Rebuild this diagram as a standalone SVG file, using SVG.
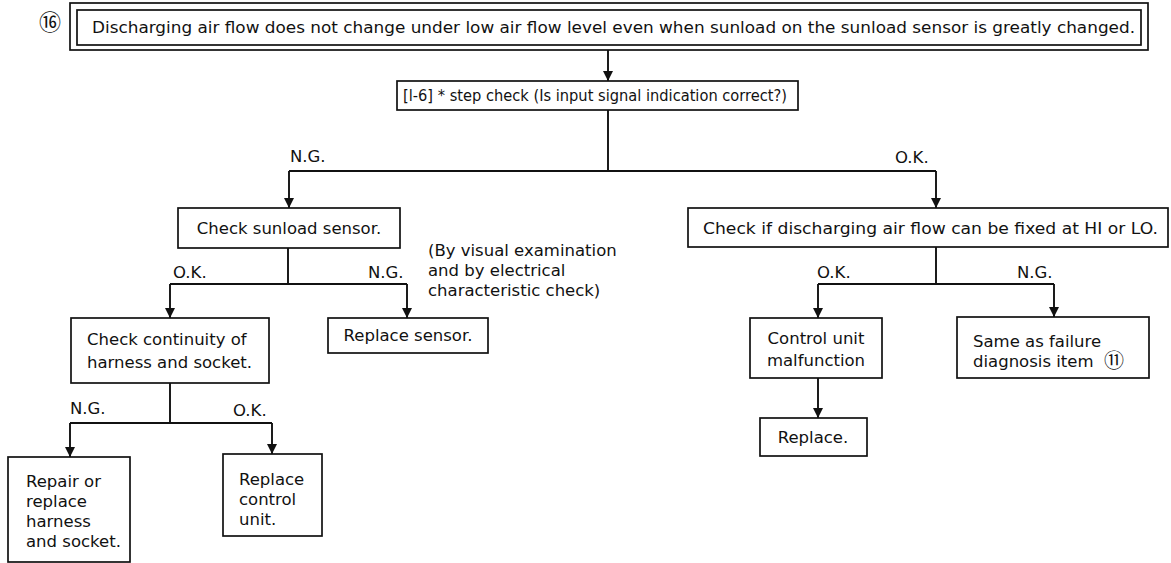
<svg xmlns="http://www.w3.org/2000/svg" width="1171" height="563" viewBox="0 0 1171 563">
<style>
.bx{fill:#fff;stroke:#111;stroke-width:1.7}
.t{font-family:"DejaVu Sans","Liberation Sans",sans-serif;font-size:16.5px;fill:#111}
.c{text-anchor:middle}
.ln{fill:none;stroke:#111;stroke-width:1.9}
.cj{font-family:"Noto Sans CJK JP","DejaVu Sans",sans-serif;fill:#111}
</style>
<defs>
<marker id="ah" markerUnits="userSpaceOnUse" markerWidth="10" markerHeight="11" refX="10" refY="5" orient="auto">
<path d="M0,0 L10,5 L0,10 z" fill="#111"/>
</marker>
</defs>
<rect width="1171" height="563" fill="#fff"/>
<text class="cj" x="50" y="30" font-size="22" text-anchor="middle">⑯</text>
<g id="n_top">
<rect class="bx" x="70" y="3" width="1078" height="47"/>
<rect class="bx" x="77" y="10" width="1064" height="35"/>
<text class="t" x="92" y="33" textLength="1043" lengthAdjust="spacingAndGlyphs">Discharging air flow does not change under low air flow level even when sunload on the sunload sensor is greatly changed.</text>
</g>
<g id="n_step">
<rect class="bx" x="397" y="81" width="401" height="29"/>
<text class="t" x="403" y="101" textLength="384" lengthAdjust="spacingAndGlyphs">[l-6] * step check (Is input signal indication correct?)</text>
</g>
<g id="n_sensor">
<rect class="bx" x="178" y="208" width="222" height="40"/>
<text class="t c" x="289" y="234">Check sunload sensor.</text>
</g>
<g id="n_fixed">
<rect class="bx" x="688" y="208" width="480" height="39"/>
<text class="t" x="703" y="234" textLength="455" lengthAdjust="spacingAndGlyphs">Check if discharging air flow can be fixed at HI or LO.</text>
</g>
<g id="n_note">
<text class="t" x="428" y="256">(By visual examination</text>
<text class="t" x="428" y="276">and by electrical</text>
<text class="t" x="428" y="296">characteristic check)</text>
</g>
<g id="n_cont">
<rect class="bx" x="71" y="318" width="198" height="65"/>
<text class="t" x="87" y="345">Check continuity of</text>
<text class="t" x="87" y="368">harness and socket.</text>
</g>
<g id="n_repsensor">
<rect class="bx" x="328" y="318" width="160" height="35"/>
<text class="t c" x="408" y="341">Replace sensor.</text>
</g>
<g id="n_repair">
<rect class="bx" x="8" y="457" width="122" height="105"/>
<text class="t" x="26" y="487">Repair or</text>
<text class="t" x="26" y="507">replace</text>
<text class="t" x="26" y="527">harness</text>
<text class="t" x="26" y="547">and socket.</text>
</g>
<g id="n_repctrl">
<rect class="bx" x="223" y="454" width="99" height="82"/>
<text class="t" x="239" y="485">Replace</text>
<text class="t" x="239" y="505">control</text>
<text class="t" x="239" y="525">unit.</text>
</g>
<g id="n_malf">
<rect class="bx" x="750" y="318" width="132" height="60"/>
<text class="t c" x="816" y="344">Control unit</text>
<text class="t c" x="816" y="366">malfunction</text>
</g>
<g id="n_replace">
<rect class="bx" x="760" y="418" width="107" height="38"/>
<text class="t c" x="813" y="443">Replace.</text>
</g>
<g id="n_same">
<rect class="bx" x="957" y="317" width="192" height="61"/>
<text class="t" x="973" y="347">Same as failure</text>
<text class="t" x="973" y="367">diagnosis item</text>
<text class="cj" x="1114" y="368" font-size="20" text-anchor="middle">⑪</text>
</g>
<g id="connectors">
<path class="ln" d="M608,50 V81" marker-end="url(#ah)"/>
<path class="ln" d="M608,110 V171 M289,171 H936"/>
<path class="ln" d="M289,171 V208" marker-end="url(#ah)"/>
<path class="ln" d="M936,171 V208" marker-end="url(#ah)"/>
<path class="ln" d="M288,248 V284 M170,284 H407"/>
<path class="ln" d="M170,284 V318" marker-end="url(#ah)"/>
<path class="ln" d="M407,284 V318" marker-end="url(#ah)"/>
<path class="ln" d="M170,383 V423 M70,423 H272"/>
<path class="ln" d="M70,423 V457" marker-end="url(#ah)"/>
<path class="ln" d="M272,423 V454" marker-end="url(#ah)"/>
<path class="ln" d="M936,247 V284 M818,284 H1054"/>
<path class="ln" d="M818,284 V318" marker-end="url(#ah)"/>
<path class="ln" d="M1054,284 V317" marker-end="url(#ah)"/>
<path class="ln" d="M818,378 V418" marker-end="url(#ah)"/>
<text class="t" x="290" y="162">N.G.</text>
<text class="t" x="895" y="163">O.K.</text>
<text class="t" x="173" y="278">O.K.</text>
<text class="t" x="368" y="278">N.G.</text>
<text class="t" x="70" y="414">N.G.</text>
<text class="t" x="233" y="416">O.K.</text>
<text class="t" x="817" y="278">O.K.</text>
<text class="t" x="1017" y="278">N.G.</text>
</g>
</svg>
